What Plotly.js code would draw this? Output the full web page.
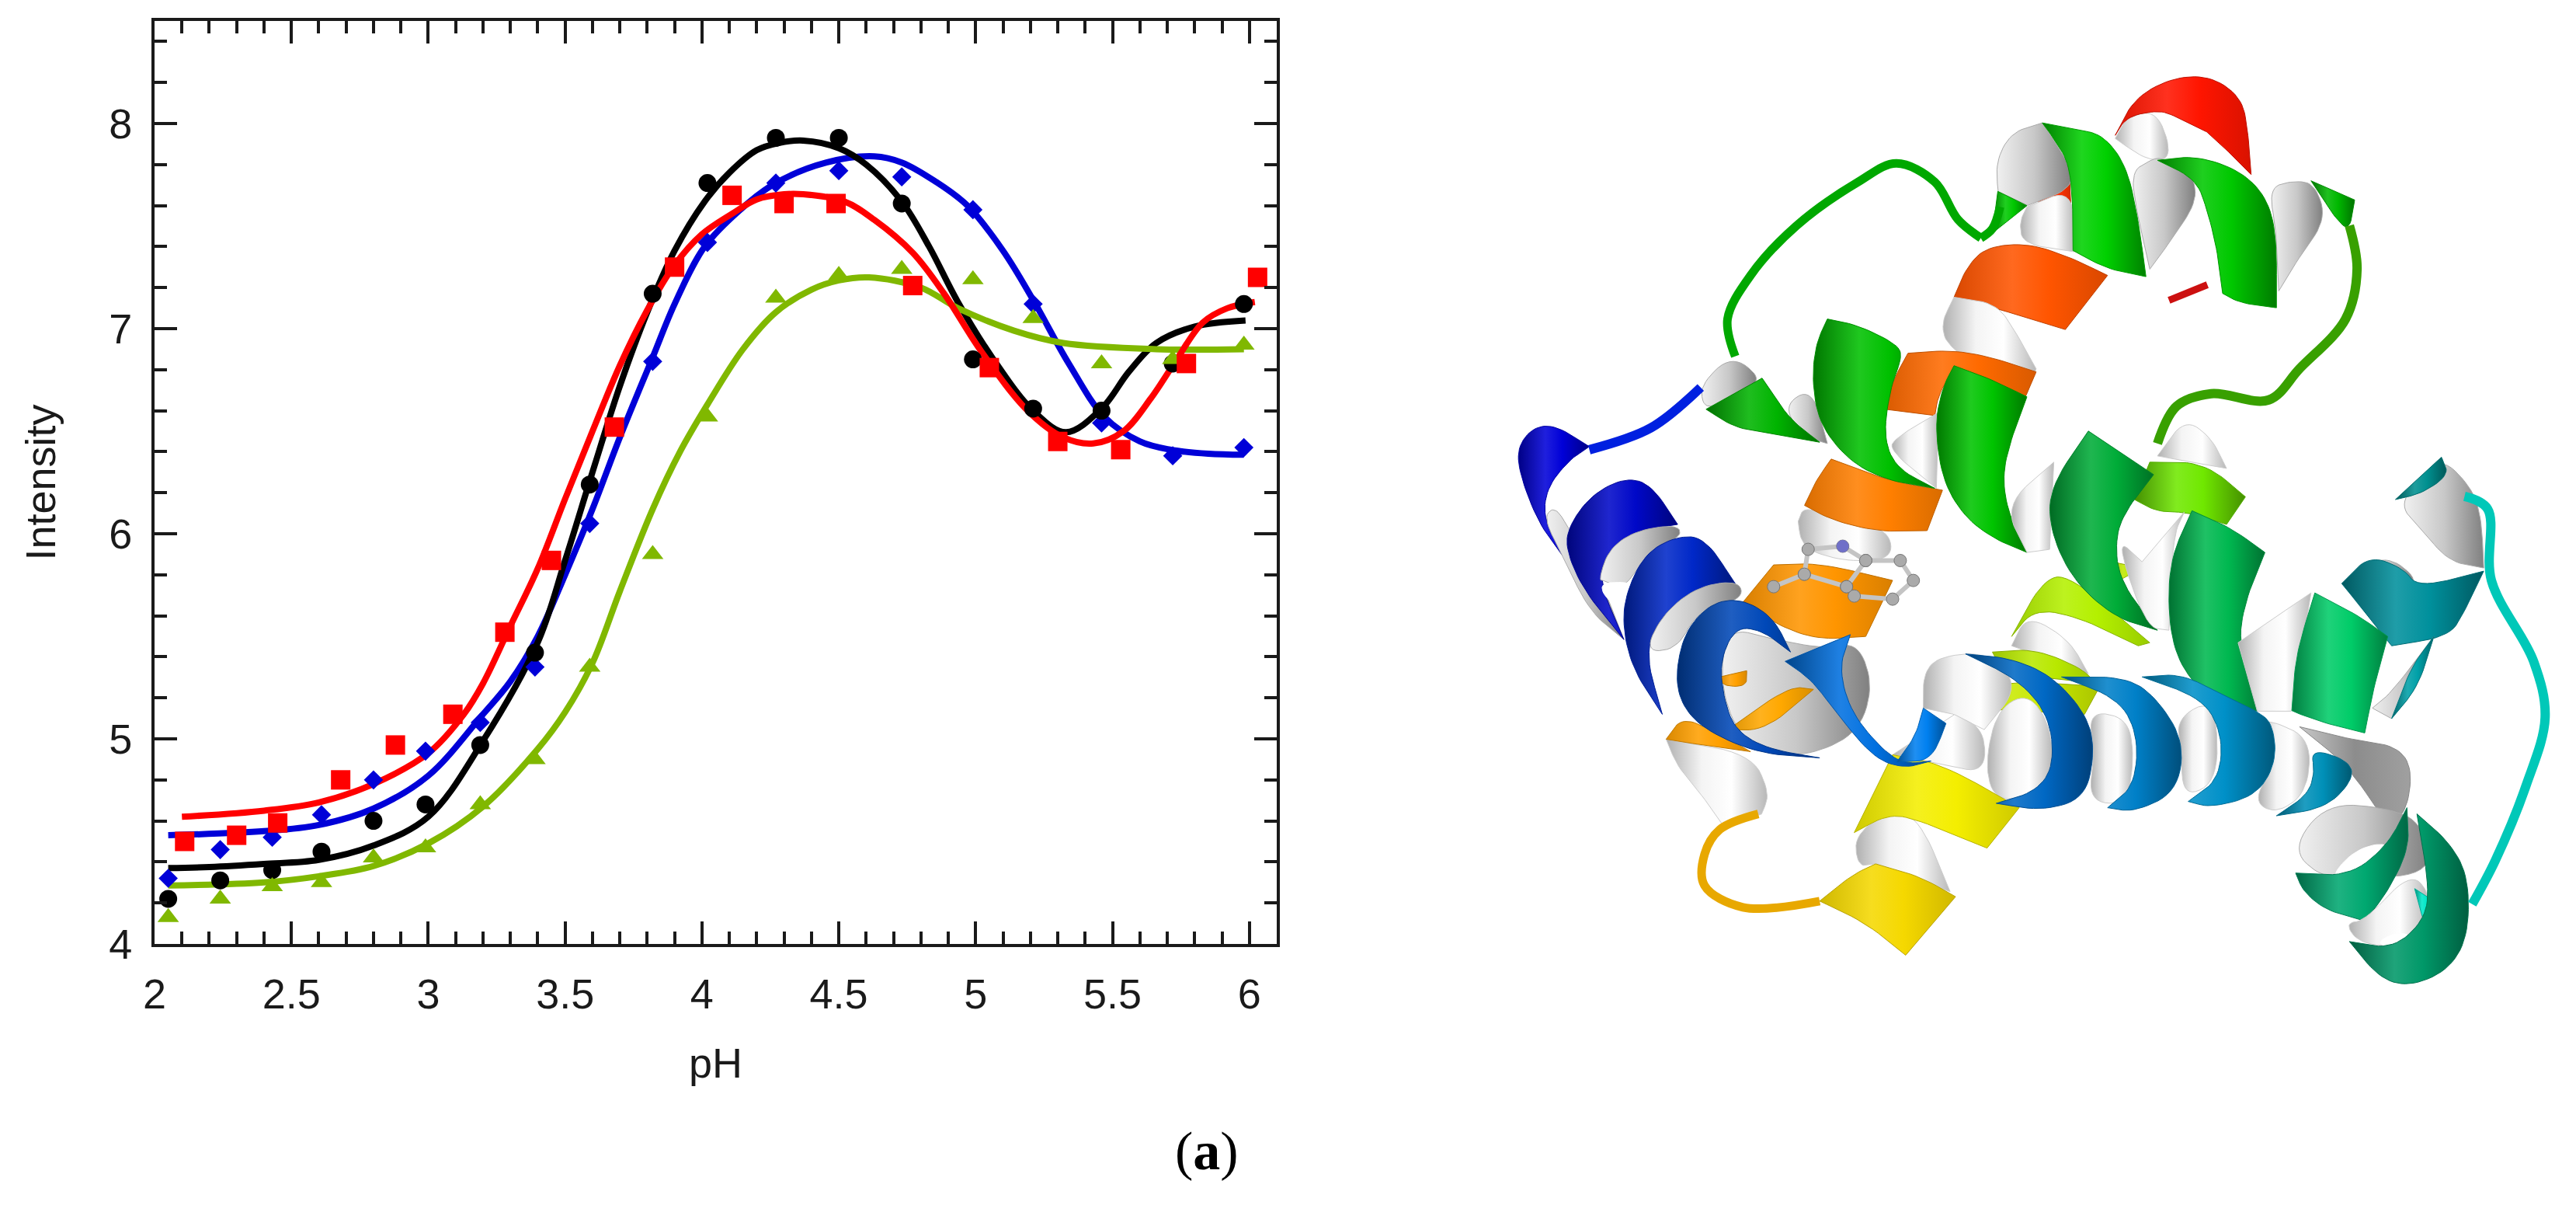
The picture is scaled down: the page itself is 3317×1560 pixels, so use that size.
<!DOCTYPE html>
<html><head><meta charset="utf-8">
<script src="https://cdn.plot.ly/plotly-3.0.1.min.js"></script>
<style>html,body{margin:0;padding:0;background:#fff}</style></head>
<body><div id="chart" style="width:3317px;height:1560px"></div>
<script>
// measured points: the first 19 pH readings are shared by black, blue and green
const phShared=[2.05,2.24,2.43,2.61,2.80,2.99,3.19,3.39,3.59,3.82,4.02,4.27,4.50,4.73,4.99,5.21,5.46,5.72,5.98];
const blackPts=[4.22,4.31,4.36,4.45,4.60,4.68,4.97,5.42,6.24,7.17,7.71,7.93,7.93,7.61,6.85,6.61,6.60,6.83,7.12];
const bluePts=[4.32,4.46,4.52,4.63,4.80,4.94,5.08,5.35,6.05,6.84,7.42,7.71,7.77,7.74,7.58,7.12,6.54,6.38,6.42];
const greenPts=[4.13,4.22,4.28,4.30,4.42,4.47,4.68,4.90,5.35,5.90,6.57,7.15,7.26,7.29,7.24,7.05,6.83,6.85,6.92];
const phRed=[2.11,2.30,2.45,2.68,2.88,3.09,3.28,3.45,3.68,3.90,4.11,4.30,4.49,4.77,5.05,5.30,5.53,5.77,6.03];
const redPts=[4.50,4.53,4.59,4.80,4.97,5.12,5.52,5.87,6.52,7.30,7.65,7.61,7.61,7.21,6.81,6.45,6.41,6.83,7.25];
// fitted curves
const blackFitX=[2.05,2.2,2.4,2.6,2.8,3.0,3.2,3.4,3.5,3.6,3.7,3.8,3.9,4.01,4.1,4.2,4.28,4.37,4.5,4.6,4.73,4.83,4.935,5.06,5.21,5.33,5.46,5.56,5.66,5.8,5.986];
const blackFitY=[4.37,4.375,4.39,4.41,4.48,4.62,4.99,5.47,5.87,6.30,6.72,7.08,7.38,7.62,7.76,7.87,7.905,7.917,7.88,7.80,7.62,7.40,7.13,6.86,6.60,6.495,6.61,6.79,6.93,7.01,7.04];
const blueFitX=[2.05,2.4,2.6,2.8,3.0,3.2,3.3,3.4,3.5,3.6,3.7,3.82,3.9,4.01,4.14,4.27,4.455,4.63,4.73,4.85,4.97,5.1,5.21,5.34,5.47,5.6,5.71,5.85,5.98];
const blueFitY=[4.53,4.55,4.58,4.66,4.82,5.12,5.28,5.50,5.80,6.12,6.47,6.86,7.12,7.40,7.58,7.71,7.81,7.84,7.81,7.72,7.60,7.38,7.14,6.83,6.57,6.45,6.41,6.39,6.385];
const greenFitX=[2.05,2.4,2.6,2.8,3.0,3.2,3.4,3.5,3.6,3.7,3.82,3.92,4.02,4.15,4.27,4.4,4.5,4.61,4.8,4.935,5.14,5.32,5.66,5.98];
const greenFitY=[4.285,4.30,4.33,4.38,4.49,4.67,4.95,5.13,5.37,5.72,6.12,6.40,6.63,6.90,7.08,7.19,7.235,7.25,7.20,7.10,6.99,6.93,6.90,6.90];
const redFitX=[2.10,2.4,2.6,2.8,3.0,3.13,3.2,3.3,3.4,3.5,3.6,3.7,3.8,3.9,4.0,4.11,4.2,4.3,4.37,4.52,4.63,4.77,4.885,5.02,5.19,5.32,5.43,5.54,5.64,5.73,5.83,5.92,6.02];
const redFitY=[4.62,4.65,4.69,4.78,4.93,5.12,5.27,5.55,5.83,6.17,6.50,6.82,7.09,7.31,7.46,7.56,7.63,7.655,7.655,7.62,7.53,7.37,7.17,6.89,6.60,6.47,6.44,6.50,6.66,6.84,7.03,7.10,7.13];
const xTickStep=0.5, xMinorStep=0.1, yTickStep=1, yMinorStep=0.2;
const xTitle='pH', yTitle='Intensity', panelTag='(<b>a</b>)';

// ribbon illustration: colour + outline (third item 1 = sharp corner), painted back to front
const W='W', G='G', D='D';
const ribbons=[
[W,[[985,160,1],[1000,125],[1040,115],[1060,190],[1030,197],[990,165]]],
['#ff1500',[[985,155,1],[1010,95],[1060,62],[1110,60],[1150,95],[1158,150],[1162,218,1],[1140,190],[1105,150,1],[1060,122],[1040,115],[1000,125]]],
[G,[[1030,195],[1045,190],[1085,215],[1092,260],[1060,320],[1030,370,1],[1015,290],[1005,215]]],
[G,[[1185,240],[1215,228],[1245,232],[1260,290],[1225,350],[1198,405,1],[1195,310]]],
['#ff3300',[[885,262,1],[925,210,1],[927,265,1]]],
[G,[[890,135,1],[850,150],[830,195],[832,245,1],[870,268,1],[930,240],[925,200]]],
['#00c800',[[832,245,1],[870,268,1],[825,312,1]]],
[W,[[870,270,1],[930,240],[932,342,1],[865,330],[860,295]]],
['#ff5500',[[815,335],[870,328],[925,350],[975,380,1],[920,467,1],[850,440],[775,415,1],[790,370]]],
[W,[[775,415,1],[830,425],[855,470],[882,530,1],[870,570,1],[770,500],[757,460]]],
['#ff6a00',[[715,505,1],[770,500],[820,510],[882,535,1],[868,575,1],[790,535],[775,530],[755,570],[750,605,1],[685,595,1],[695,550]]],
[W,[[690,660],[700,640],[755,600,1],[752,722,1]]],
[G,[[552,590],[590,560],[610,650,1],[580,640]]],
[W,[[572,775,1],[580,750],[640,775],[690,790],[695,835],[640,840],[590,825],[575,805]]],
['#ff7f00',[[615,675,1],[690,710],[760,725,1],[740,790,1],[680,792],[620,775],[580,750,1],[595,710]]],
['#ff9500',[[540,845,1],[600,842],[695,870,1],[660,960,1],[600,965],[550,945],[500,905,1]]],
[G,[[448,590],[445,555],[485,508],[525,545],[500,565],[465,590]]],
['#00b400',[[525,545,1],[560,610],[600,648,1],[540,635],[490,625],[452,595,1]]],
['#00c000',[[610,450,1],[650,460],[700,490],[708,510],[692,560],[683,640],[700,690],[750,722,1],[690,710],[640,680],[600,620],[590,550],[595,490]]],
['#00c400',[[775,525,1],[820,545],[870,575,1],[850,640],[838,700],[845,760],[870,825,1],[830,805],[790,770],[760,710],[750,620],[760,560]]],
[W,[[840,750],[905,680,1],[900,820,1],[870,825,1]]],
[W,[[1040,670,1],[1075,610],[1110,640],[1130,690,1]]],
['#70e800',[[1010,740,1],[1030,680,1],[1100,680],[1155,735,1],[1130,780,1],[1080,760],[1040,760]]],
[W,[[850,975,1],[870,925],[925,965],[950,1020,1],[920,1005]]],
['#b4f000',[[850,960,1],[890,870],[925,860],[1030,970,1],[1015,975,1],[940,930],[880,915]]],
['#c0e800',[[980,840,1],[1020,850,1],[990,870,1]]],
['#c8e800',[[780,1075,1],[830,1030],[965,1040,1],[945,1085,1],[880,1080]]],
['#b8e800',[[825,985,1],[880,980],[940,1010],[960,1035,1],[840,1020]]],
['#00ac38',[[950,630,1],[1035,700,1],[1000,755],[985,800],[990,870],[1040,950,1],[985,930],[930,870],[900,790],[900,720]]],
[W,[[985,800],[1020,840,1],[1075,760,1],[1060,800],[1055,950,1],[1025,945]]],
['#00b850',[[1085,758,1],[1135,785],[1180,825,1],[1155,900],[1145,970],[1170,1080,1],[1120,1070],[1075,1020],[1055,950],[1055,840]]],
[W,[[1145,970,1],[1240,890,1],[1225,1000],[1215,1080,1],[1170,1080,1]]],
[G,[[1355,750],[1380,710],[1410,672],[1450,722],[1462,770],[1465,850,1],[1420,840],[1385,790]]],
['#009090',[[1350,740,1],[1380,705],[1410,672,1],[1420,700],[1385,730]]],
[G,[[1310,840],[1350,835],[1385,880],[1310,885]]],
['#00909c',[[1280,875,1],[1315,830],[1360,850],[1380,882],[1465,855,1],[1440,920],[1420,960],[1345,975,1],[1310,920]]],
[G,[[1320,1075,1],[1345,1050],[1400,960,1],[1380,1040],[1345,1092,1]]],
['#00a0a8',[[1400,960,1],[1380,1040],[1345,1092,1],[1370,1010]]],
['#00cc68',[[1245,890,1],[1300,925],[1340,960,1],[1322,1040],[1310,1115,1],[1260,1100],[1215,1080,1],[1218,1020],[1225,970]]],
[D,[[1225,1105,1],[1290,1125],[1350,1135],[1372,1170],[1365,1240],[1340,1265],[1290,1170]]],
[G,[[1215,1300],[1260,1228],[1340,1235],[1385,1260],[1400,1340],[1300,1350],[1250,1345]]],
['#ffffff',[[1265,1345],[1300,1300],[1345,1290],[1320,1330],[1290,1350]]],
['#00a870',[[1220,1340,1],[1290,1345],[1340,1295],[1365,1235,1],[1368,1300],[1340,1370],[1310,1417,1],[1260,1400],[1230,1370]]],
[W,[[1285,1420],[1310,1417],[1368,1340],[1395,1370],[1385,1420],[1345,1460],[1300,1450]]],
['#ffffff',[[1325,1452],[1350,1435],[1372,1440],[1345,1460]]],
['#00e8c8',[[1375,1365,1],[1400,1385,1],[1385,1410,1]]],
['#009868',[[1378,1245,1],[1420,1290],[1445,1345],[1445,1440],[1420,1495],[1370,1522],[1330,1510],[1290,1450,1],[1345,1462],[1385,1420],[1395,1370]]],
[W,[[1170,1100],[1190,1095],[1240,1125],[1235,1210],[1195,1245],[1165,1225],[1190,1170]]],
['#0090b8',[[1240,1140],[1290,1160],[1295,1190],[1260,1235],[1195,1248,1],[1235,1215],[1245,1180]]],
[W,[[1065,1090],[1115,1060],[1120,1190],[1075,1220],[1070,1150]]],
['#0090c8',[[1020,1025,1],[1070,1020],[1120,1050],[1170,1080],[1190,1100],[1195,1160],[1170,1215],[1110,1235],[1080,1225,1],[1120,1190],[1125,1120],[1100,1060]]],
[W,[[950,1080],[1000,1090],[1010,1150],[1000,1230],[950,1225],[958,1150]]],
['#0080c8',[[915,1025,1],[1000,1025],[1040,1060],[1075,1130],[1065,1210],[1010,1242],[975,1235,1],[1010,1200],[1015,1120],[990,1060]]],
[W,[[735,1075,1],[735,1020],[755,992],[820,985],[860,1040],[815,1110,1],[775,1085,1]]],
[W,[[815,1170],[830,1080],[870,1050],[900,1100],[905,1180],[880,1215],[830,1225]]],
[W,[[650,1330],[645,1280],[690,1240],[730,1252],[770,1370,1],[672,1325,1]]],
['#f5d800',[[600,1385,1],[640,1345],[672,1325,1],[730,1345],[777,1378,1],[712,1472,1],[660,1420]]],
[W,[[695,1150,1],[775,1085,1],[815,1110],[815,1180],[760,1165]]],
['#f4ee00',[[645,1275,1],[695,1150,1],[760,1165],[860,1235,1],[818,1300,1],[730,1255],[690,1245]]],
['#0068c4',[[790,988,1],[850,995],[905,1025],[950,1090],[958,1150],[945,1220],[890,1240],[830,1228,1],[880,1210],[905,1170],[900,1090],[860,1030]]],
[W,[[400,1125,1],[510,1148],[535,1210],[525,1245,1],[475,1265,1],[450,1220],[415,1170]]],
['#0000d8',[[205,660],[225,625],[255,620],[300,655,1],[275,675],[245,720],[240,770],[265,830,1],[235,780],[212,710]]],
[G,[[240,770],[255,750],[275,790],[315,870],[345,965,1],[300,920],[265,830,1]]],
['#0008c8',[[270,790],[300,735],[345,705],[380,715],[415,780,1],[360,790],[325,820],[312,870],[345,965,1],[295,890],[272,830]]],
[G,[[312,870],[325,820],[360,790],[415,780],[420,800],[380,820],[345,885],[320,870]]],
['#ffffff',[[312,875],[345,872],[375,880],[345,905],[325,905]]],
['#0028c8',[[345,900],[370,830],[410,800],[450,800],[490,875,1],[440,880],[395,925],[372,985],[395,1085,1],[360,1020],[345,960]]],
[G,[[372,985],[395,925],[440,880],[495,870],[500,900],[440,920],[415,980]]],
[G,[[480,945],[540,965],[610,980],[650,970],[670,1040],[650,1115],[590,1150],[530,1150],[490,1110],[470,1030]]],
['#ffa000',[[400,1125,1],[420,1090],[460,1110],[510,1145,1],[450,1135]]],
['#ffa800',[[480,1110,1],[560,1040],[592,1045,1],[530,1110]]],
['#ffa000',[[470,1025,1],[505,1015,1],[505,1040],[475,1040]]],
['#0048b8',[[412,1020],[425,950],[460,905],[500,900],[540,930],[562,985,1],[525,950],[490,945],[470,1000],[475,1060],[490,1110],[530,1140],[600,1155,1],[520,1148],[450,1110],[420,1070]]],
['#0070e0',[[555,1000,1],[640,957,1],[625,1010],[640,1080],[680,1140],[710,1165],[745,1160,1],[710,1172],[670,1155],[620,1080],[590,1030]]],
['#0080f0',[[700,1162,1],[745,1160],[765,1100,1],[735,1075,1],[725,1120]]],
['#00d000',[[890,135,1],[935,145],[970,155],[1000,205],[1015,290],[1025,382,1],[975,370],[930,340,1],[930,270],[925,200],[905,160]]],
['#00c800',[[1040,195,1],[1090,188],[1145,210],[1180,250],[1195,310],[1195,432,1],[1150,425],[1125,410,1],[1118,340],[1105,275],[1090,225]]],
['#00b800',[[1240,228,1],[1297,258,1],[1290,310],[1270,285],[1255,255]]]
];
// thin coils: colour, width, path
const coils=[
['#00a800',11,[[810,320],[780,290],[750,230],[700,200],[650,230],[570,300],[510,380],[480,450],[490,510]]],
['#00a800',11,[[810,320],[825,305],[835,270]]],
['#38a000',12,[[1040,650],[1065,590],[1110,570],[1185,580],[1225,530],[1285,450],[1300,370],[1290,300]]],
['#0020e0',12,[[300,660],[380,625],[445,560]]],
['#e8a800',11,[[520,1245],[470,1270],[450,1310],[450,1360],[500,1395],[600,1385]]],
['#00c8b8',12,[[1440,735],[1470,755],[1475,870],[1530,1000],[1545,1090],[1520,1200],[1480,1320],[1450,1390]]],
['#cc1010',9,[[1055,420],[1105,395]]]
];
const ligandX=[540,580,635,645,695,722,705,660,635];
const ligandY=[880,860,880,895,900,870,838,838,880];
const ringX=[580,585,630,660];
const ringY=[860,820,815,838];

function outline(p){
  let pts=p.map(a=>({x:a[0],y:a[1],s:a[2]===1}));
  for(let k=0;k<3;k++){
    const out=[],n=pts.length;
    for(let i=0;i<n;i++){
      const a=pts[i],b=pts[(i+1)%n];
      if(a.s) out.push(a);
      out.push({x:a.x*.75+b.x*.25,y:a.y*.75+b.y*.25,s:false});
      out.push({x:a.x*.25+b.x*.75,y:a.y*.25+b.y*.75,s:false});
    }
    pts=out;
  }
  pts.push(pts[0]);
  return pts;
}
function shade(hex,f){
  const n=parseInt(hex.slice(1),16);
  const ch=s=>{const v=(n>>s)&255;return Math.round(f<1?v*f:v+(255-v)*(f-1));};
  return 'rgb('+ch(16)+','+ch(8)+','+ch(0)+')';
}
const traces=[];
ribbons.forEach(r=>{
  const pts=outline(r[1]);
  let scale,edge;
  if(r[0]===W){scale=[[0,'#b0b0b0'],[0.35,'#f4f4f4'],[0.65,'#ffffff'],[1,'#b8b8b8']];edge='#cccccc';}
  else if(r[0]===G){scale=[[0,'#f0f0f0'],[0.5,'#c8c8c8'],[1,'#808080']];edge='#aaaaaa';}
  else if(r[0]===D){scale=[[0,'#c8c8c8'],[0.5,'#8c8c8c'],[1,'#a0a0a0']];edge='#888888';}
  else if(r[0]==='#ffffff'){scale=[[0,'#ffffff'],[1,'#ffffff']];edge='#ffffff';}
  else{
    const warm=parseInt(r[0].slice(1,3),16)>=0xb0;
    const edgeF=warm?0.85:0.62;
    scale=[[0,shade(r[0],edgeF)],[0.38,shade(r[0],1.12)],[0.62,r[0]],[1,shade(r[0],edgeF)]];edge=shade(r[0],0.75);
  }
  traces.push({x:pts.map(a=>a.x),y:pts.map(a=>a.y),xaxis:'x2',yaxis:'y2',mode:'lines',fill:'toself',
    fillgradient:{type:'horizontal',colorscale:scale},line:{color:edge,width:1},hoverinfo:'skip',showlegend:false});
});
coils.forEach(c=>traces.push({x:c[2].map(a=>a[0]),y:c[2].map(a=>a[1]),xaxis:'x2',yaxis:'y2',mode:'lines',line:{color:c[0],width:c[1],shape:'spline'},hoverinfo:'skip',showlegend:false}));
[[ligandX,ligandY],[ringX,ringY]].forEach(l=>traces.push({x:l[0],y:l[1],xaxis:'x2',yaxis:'y2',mode:'lines+markers',line:{color:'#c4c4c4',width:6},marker:{size:16,color:'#aaaaaa',line:{color:'#777777',width:1}},hoverinfo:'skip',showlegend:false}));
traces.push({x:[630],y:[815],xaxis:'x2',yaxis:'y2',mode:'markers',marker:{size:16,color:'#7070c8'},hoverinfo:'skip',showlegend:false});

const lineW=8;
const fit=(x,y,c)=>traces.push({x,y,mode:'lines',line:{color:c,width:lineW,shape:'spline',smoothing:1},showlegend:false});
const pts=(x,y,c,sym,size)=>traces.push({x,y,mode:'markers',marker:{color:c,symbol:sym,size},cliponaxis:false,showlegend:false});
const cBlack='#000000',cBlue='#0000d8',cGreen='#80b800',cRed='#ff0000';
fit(blueFitX,blueFitY,cBlue);fit(blackFitX,blackFitY,cBlack);fit(greenFitX,greenFitY,cGreen);fit(redFitX,redFitY,cRed);
pts(phShared,bluePts,cBlue,'diamond',19);pts(phShared,blackPts,cBlack,'circle',23);pts(phShared,greenPts,cGreen,'triangle-up',24);pts(phRed,redPts,cRed,'square',25);

const axisBase={showgrid:false,zeroline:false,showline:true,linecolor:'#1a1a1a',linewidth:4,mirror:'allticks',ticks:'inside',ticklen:29,tickwidth:4,tickcolor:'#1a1a1a',fixedrange:true,automargin:false,
 tickfont:{family:'Liberation Sans, Arial, sans-serif',size:54,color:'#1a1a1a'}};
const layout={width:3317,height:1560,margin:{l:0,r:0,t:0,b:0},paper_bgcolor:'#fff',plot_bgcolor:'#fff',showlegend:false,
 xaxis:Object.assign({},axisBase,{domain:[199/3317,1644/3317],range:[2,6.1],tick0:2,dtick:xTickStep,ticklabelstandoff:14,
   minor:{dtick:xMinorStep,tick0:2,ticks:'inside',ticklen:16,tickwidth:4,tickcolor:'#1a1a1a',showgrid:false},
   title:{text:xTitle,standoff:42,font:{family:'Liberation Sans, Arial, sans-serif',size:54,color:'#1a1a1a'}}}),
 yaxis:Object.assign({},axisBase,{domain:[1-1215/1560,1-27/1560],range:[4,8.5],tick0:4,dtick:yTickStep,ticklabelstandoff:14,
   minor:{dtick:yMinorStep,tick0:4,ticks:'inside',ticklen:16,tickwidth:4,tickcolor:'#1a1a1a',showgrid:false},
   title:{text:yTitle,standoff:52,font:{family:'Liberation Sans, Arial, sans-serif',size:54,color:'#1a1a1a'}}}),
 xaxis2:{domain:[1750/3317,3300/3317],range:[0,1568],visible:false,fixedrange:true,anchor:'y2'},
 yaxis2:{domain:[1-1300/1560,1-50/1560],range:[1560,0],visible:false,fixedrange:true,anchor:'x2'},
 annotations:[{xref:'paper',yref:'paper',x:1554/3317,y:1-1481/1560,text:panelTag,showarrow:false,xanchor:'center',yanchor:'middle',font:{family:'Liberation Serif, Times New Roman, serif',size:70,color:'#000'}}]
};
Plotly.newPlot('chart',traces,layout,{displayModeBar:false,staticPlot:true});
</script></body></html>
